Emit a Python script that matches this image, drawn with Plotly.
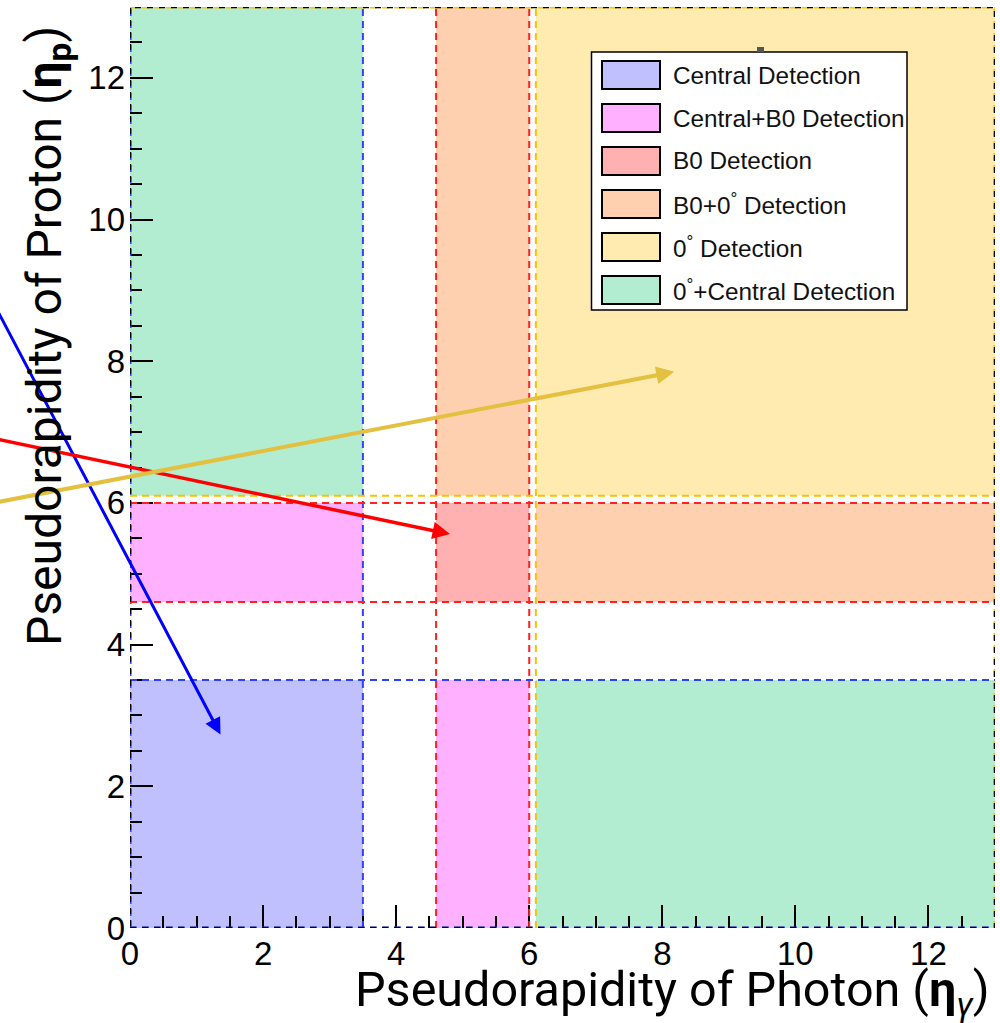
import plotly.graph_objects as go

# ---------------- data ----------------
axis_max = 13
central_max = 3.5
b0_min, b0_max = 4.6, 6.0
zero_min = 6.1

categories = ["Central Detection", "Central+B0 Detection", "B0 Detection",
              "B0+0<sup>°</sup> Detection", "0<sup>°</sup> Detection",
              "0<sup>°</sup>+Central Detection"]
fill_colors = ["#C0C0FF", "#FFB0FF", "#FFB0B0", "#FFD0B0", "#FFEBB0", "#B2EDD2"]
# rectangles (x0, x1, y0, y1) per category
region_rects = [
    [(0, central_max, 0, central_max)],
    [(0, central_max, b0_min, b0_max), (b0_min, b0_max, 0, central_max)],
    [(b0_min, b0_max, b0_min, b0_max)],
    [(b0_min, b0_max, zero_min, axis_max), (zero_min, axis_max, b0_min, b0_max)],
    [(zero_min, axis_max, zero_min, axis_max)],
    [(0, central_max, zero_min, axis_max), (zero_min, axis_max, 0, central_max)],
]

boundary_values = [0, central_max, b0_min, b0_max, zero_min, axis_max]
boundary_colors = ["#3040FF", "#3040FF", "#FF2020", "#FF2020", "#F5C400", "#F5C400"]

arrow_head_x = [1.36, 4.81, 8.18]
arrow_head_y = [2.73, 5.56, 7.85]
arrow_tail_x = [-2.0, -2.0, -2.0]
arrow_tail_y = [8.73, 6.90, 6.01]
arrow_colors = ["#0000FF", "#FF0000", "#E3C040"]
arrow_widths = [3, 3.5, 4]
arrow_sizes = [1.1, 1.0, 0.9]

x_title = "Pseudorapidity of Photon (<b>η</b><sub><i>γ</i></sub>)"
y_title = "Pseudorapidity of Proton (<b>η</b><sub><b>p</b></sub>)"

# ---------------- figure ----------------
W, H = 1000, 1023
ML, MR, MT, MB = 130, 5, 7, 95
PW, PH = W - ML - MR, H - MT - MB


def px(xp):
    return (xp - ML) / PW


def py(yp):
    return (H - MB - yp) / PH


fig = go.Figure()
fig.add_trace(go.Scatter(x=[0, axis_max], y=[0, axis_max], mode="markers",
                         marker=dict(opacity=0), showlegend=False, hoverinfo="skip"))

shapes = []
for rects, col in zip(region_rects, fill_colors):
    for (x0, x1, y0, y1) in rects:
        shapes.append(dict(type="rect", xref="x", yref="y", x0=x0, x1=x1, y0=y0, y1=y1,
                           fillcolor=col, line=dict(width=0), layer="below"))

for v, col in zip(boundary_values, boundary_colors):
    w = 3 if v in (0, axis_max) else 2
    shapes.append(dict(type="line", xref="x", yref="y", x0=v, x1=v, y0=0, y1=axis_max,
                       line=dict(color=col, width=w, dash="7px,5px")))
    shapes.append(dict(type="line", xref="x", yref="y", x0=0, x1=axis_max, y0=v, y1=v,
                       line=dict(color=col, width=w, dash="7px,5px")))

# black dashed frame
shapes.append(dict(type="rect", xref="x", yref="y", x0=0, x1=axis_max, y0=0, y1=axis_max,
                   line=dict(color="black", width=2.5, dash="6px,6px"), fillcolor="rgba(0,0,0,0)"))

# legend box (manual)
lx0, lx1, ly0, ly1 = px(591.5), px(907), py(310), py(52)
shapes.append(dict(type="rect", xref="paper", yref="paper", x0=lx0, x1=lx1, y0=ly0, y1=ly1,
                   fillcolor="white", line=dict(color="black", width=1.5)))
# small grey mark above the legend
shapes.append(dict(type="rect", xref="paper", yref="paper", x0=px(757), x1=px(764),
                   y0=py(52), y1=py(47), fillcolor="#555", line=dict(width=0)))

annotations = []
item_y = [75, 118, 161, 204, 247, 290]
for name, col, yc in zip(categories, fill_colors, item_y):
    shapes.append(dict(type="rect", xref="paper", yref="paper",
                       x0=px(602), x1=px(660), y0=py(yc + 14), y1=py(yc - 14),
                       fillcolor=col, line=dict(color="black", width=2)))
    annotations.append(dict(xref="paper", yref="paper", x=px(671), y=py(yc), text=name,
                            showarrow=False, xanchor="left", yanchor="middle",
                            font=dict(family="Liberation Sans, Arial", size=24.3, color="#111")))

for hx, hy, tx, ty, c, w, s in zip(arrow_head_x, arrow_head_y, arrow_tail_x, arrow_tail_y,
                                   arrow_colors, arrow_widths, arrow_sizes):
    annotations.append(dict(x=hx, y=hy, ax=tx, ay=ty, xref="x", yref="y", axref="x", ayref="y",
                            showarrow=True, arrowhead=2, arrowsize=s, arrowwidth=w,
                            arrowcolor=c, text="", standoff=0))

annotations.append(dict(xref="paper", yref="paper", x=px(992), y=py(992), text=x_title,
                        showarrow=False, xanchor="right", yanchor="middle",
                        font=dict(family="Roboto", size=48.5, color="black")))
annotations.append(dict(xref="paper", yref="paper", x=px(47), y=py(24), text=y_title,
                        showarrow=False, xanchor="center", yanchor="top", textangle=-90,
                        font=dict(family="Roboto", size=48, color="black")))

axis_common = dict(range=[0, axis_max], dtick=2, tick0=0, ticks="inside", ticklen=23,
                   tickwidth=1.8, tickcolor="black", showgrid=False, zeroline=False,
                   showline=False,
                   tickfont=dict(family="Liberation Sans, Arial", size=33, color="black"),
                   minor=dict(ticks="inside", ticklen=12, dtick=0.5, tickwidth=1.6,
                              tickcolor="black", showgrid=False))

fig.update_layout(
    width=W, height=H, margin=dict(l=ML, r=MR, t=MT, b=MB),
    paper_bgcolor="white", plot_bgcolor="white",
    xaxis=dict(**axis_common, ticklabelstandoff=3),
    yaxis=dict(**axis_common, ticklabelstandoff=4),
    shapes=shapes, annotations=annotations, showlegend=False,
)

fig.write_html("out.html")
